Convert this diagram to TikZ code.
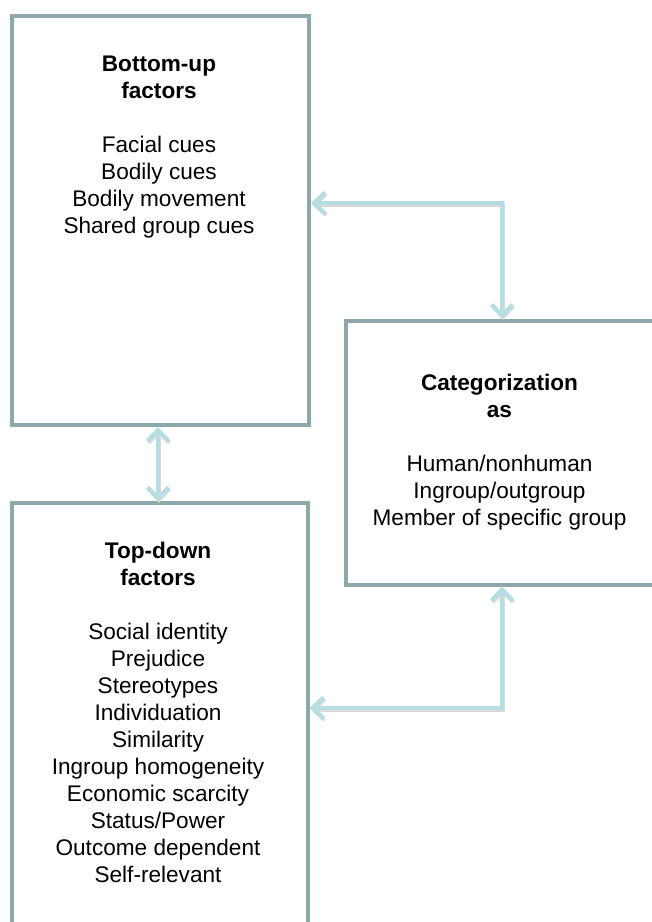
\documentclass[tikz,border=0pt]{standalone}
\usepackage{fontspec}
\setmainfont{Liberation Sans}
\usetikzlibrary{arrows.meta}
\definecolor{boxc}{HTML}{8DA8AB}
\definecolor{arrc}{HTML}{B6DDE1}
\definecolor{shadc}{HTML}{D9D9D9}
\tikzset{
  bartip/.tip={Straight Barb[length=11pt,width=21pt,line width=4.2pt]},
}
\begin{document}
\begin{tikzpicture}[x=1pt,y=-1pt,
  box/.style={draw=boxc, line width=4pt, rectangle, inner sep=0pt},
  txt/.style={align=center, anchor=north, inner sep=0pt, text=black,
    font=\fontsize{22.6}{27}\selectfont},
  arr/.style={draw=arrc, line width=4pt, {bartip}-{bartip}},
  shad/.style={draw=shadc, line width=4pt, {bartip}-{bartip},
    transform canvas={shift={(1pt,-1.5pt)}}},
]
\path[use as bounding box] (0,0) rectangle (652,922);
\clip (0,0) rectangle (652,922);

% boxes
\node[box, minimum width=297.5pt, minimum height=409.5pt] (box1) at (160.25,220.25) {};
\node[box, minimum width=295.5pt, minimum height=446.7pt] (box2) at (159.75,726.65) {};
\node[box, minimum width=314.5pt, minimum height=264pt] (box3) at (502.75,452.5) {};

% texts
\node[txt] (t1) at (159,51.7) {\rule{0pt}{20pt}\textbf{Bottom-up}\\\textbf{factors}\\[27pt]Facial cues\\Bodily cues\\Bodily movement\\Shared group cues};
\node[txt] (t2) at (158,538.3) {\rule{0pt}{20pt}\textbf{Top-down}\\\textbf{factors}\\[27pt]Social identity\\Prejudice\\Stereotypes\\Individuation\\Similarity\\Ingroup homogeneity\\Economic scarcity\\Status/Power\\Outcome dependent\\Self-relevant};
\node[txt] (t3) at (499.5,370.7) {\rule{0pt}{20pt}\textbf{Categorization}\\\textbf{as}\\[27pt]Human/nonhuman\\Ingroup/outgroup\\Member of specific group};

% junction points
\coordinate (j1) at (502,203);
\coordinate (j2) at (502,708);
\coordinate (j3) at (158,0);

% shadows
\draw[shad] (box1.east |- j1) -- (j1) -- (box3.north -| j1);
\draw[shad] (box1.south -| j3) -- (box2.north -| j3);
\draw[shad] (box3.south -| j2) -- (j2) -- (box2.east |- j2);

% arrows
\draw[arr] (box1.east |- j1) -- (j1) -- (box3.north -| j1);
\draw[arr] (box1.south -| j3) -- (box2.north -| j3);
\draw[arr] (box3.south -| j2) -- (j2) -- (box2.east |- j2);
\end{tikzpicture}
\end{document}
